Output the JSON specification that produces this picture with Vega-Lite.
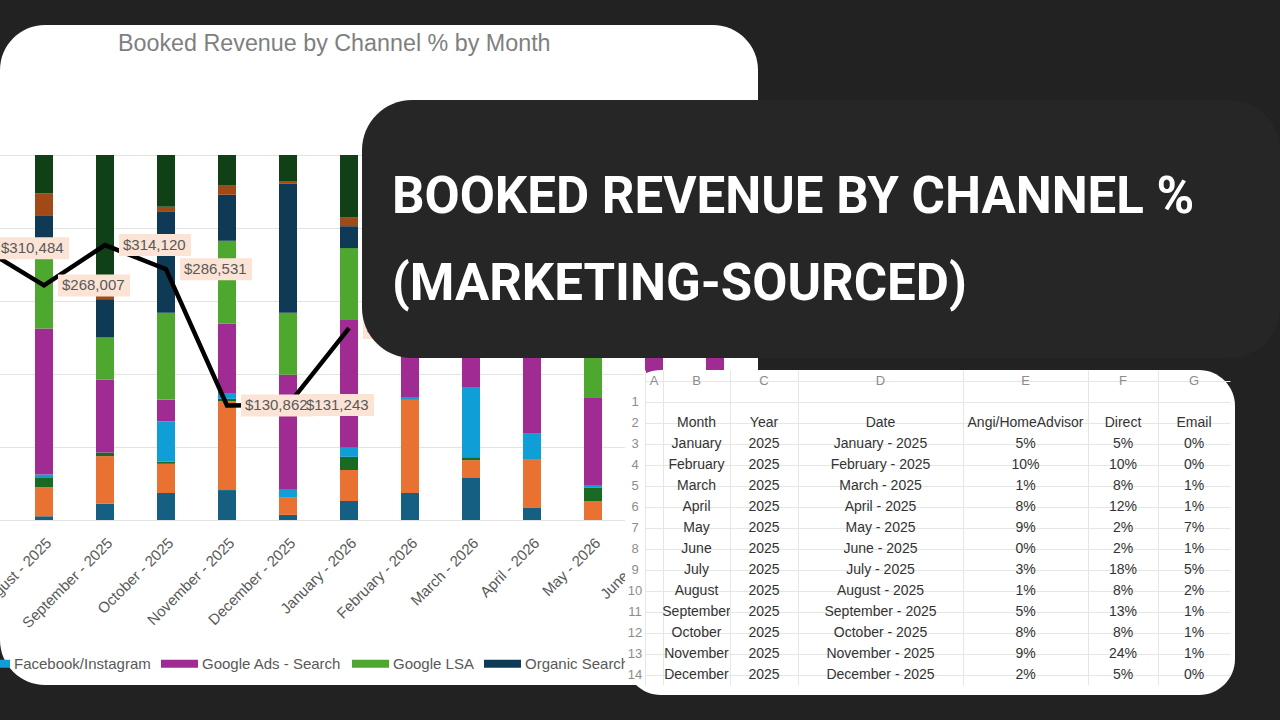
{
  "$schema": "https://vega.github.io/schema/vega-lite/v6.json",
  "background": "#222222",
  "autosize": "none",
  "padding": {"left": 0, "top": 25, "right": 1280, "bottom": 695},
  "bounds": "flush",
  "align": "none",
  "columns": 2,
  "spacing": -396,
  "resolve": {"scale": {"color": "independent"}, "legend": {"color": "independent"}},
  "config": {"font": "Liberation Sans", "view": {"stroke": null}},
  "datasets": {
    "share": [
      {"date": "July - 2025", "channel": "Angi/HomeAdvisor", "pct": 3},
      {"date": "July - 2025", "channel": "Direct", "pct": 18},
      {"date": "July - 2025", "channel": "Email", "pct": 5},
      {"date": "July - 2025", "channel": "Facebook/Instagram", "pct": 2},
      {"date": "July - 2025", "channel": "Google Ads - Search", "pct": 30},
      {"date": "July - 2025", "channel": "Google LSA", "pct": 15},
      {"date": "July - 2025", "channel": "Organic Search", "pct": 12},
      {"date": "July - 2025", "channel": "Other", "pct": 5},
      {"date": "July - 2025", "channel": "Referral", "pct": 10},
      {"date": "August - 2025", "channel": "Angi/HomeAdvisor", "pct": 1},
      {"date": "August - 2025", "channel": "Direct", "pct": 8},
      {"date": "August - 2025", "channel": "Email", "pct": 2.5},
      {"date": "August - 2025", "channel": "Facebook/Instagram", "pct": 1},
      {"date": "August - 2025", "channel": "Google Ads - Search", "pct": 40},
      {"date": "August - 2025", "channel": "Google LSA", "pct": 22},
      {"date": "August - 2025", "channel": "Organic Search", "pct": 9},
      {"date": "August - 2025", "channel": "Other", "pct": 6},
      {"date": "August - 2025", "channel": "Referral", "pct": 10.5},
      {"date": "September - 2025", "channel": "Angi/HomeAdvisor", "pct": 4.5},
      {"date": "September - 2025", "channel": "Direct", "pct": 13},
      {"date": "September - 2025", "channel": "Email", "pct": 1},
      {"date": "September - 2025", "channel": "Facebook/Instagram", "pct": 0},
      {"date": "September - 2025", "channel": "Google Ads - Search", "pct": 20},
      {"date": "September - 2025", "channel": "Google LSA", "pct": 11.5},
      {"date": "September - 2025", "channel": "Organic Search", "pct": 10.5},
      {"date": "September - 2025", "channel": "Other", "pct": 2},
      {"date": "September - 2025", "channel": "Referral", "pct": 37.5},
      {"date": "October - 2025", "channel": "Angi/HomeAdvisor", "pct": 7.4},
      {"date": "October - 2025", "channel": "Direct", "pct": 8},
      {"date": "October - 2025", "channel": "Email", "pct": 0.6},
      {"date": "October - 2025", "channel": "Facebook/Instagram", "pct": 11},
      {"date": "October - 2025", "channel": "Google Ads - Search", "pct": 6},
      {"date": "October - 2025", "channel": "Google LSA", "pct": 23.8},
      {"date": "October - 2025", "channel": "Organic Search", "pct": 27.6},
      {"date": "October - 2025", "channel": "Other", "pct": 1.4},
      {"date": "October - 2025", "channel": "Referral", "pct": 14.2},
      {"date": "November - 2025", "channel": "Angi/HomeAdvisor", "pct": 8.2},
      {"date": "November - 2025", "channel": "Direct", "pct": 24.4},
      {"date": "November - 2025", "channel": "Email", "pct": 0.6},
      {"date": "November - 2025", "channel": "Facebook/Instagram", "pct": 1.6},
      {"date": "November - 2025", "channel": "Google Ads - Search", "pct": 19},
      {"date": "November - 2025", "channel": "Google LSA", "pct": 22.7},
      {"date": "November - 2025", "channel": "Organic Search", "pct": 12.6},
      {"date": "November - 2025", "channel": "Other", "pct": 2.5},
      {"date": "November - 2025", "channel": "Referral", "pct": 8.4},
      {"date": "December - 2025", "channel": "Angi/HomeAdvisor", "pct": 1.4},
      {"date": "December - 2025", "channel": "Direct", "pct": 4.7},
      {"date": "December - 2025", "channel": "Email", "pct": 0},
      {"date": "December - 2025", "channel": "Facebook/Instagram", "pct": 2.2},
      {"date": "December - 2025", "channel": "Google Ads - Search", "pct": 31.5},
      {"date": "December - 2025", "channel": "Google LSA", "pct": 17},
      {"date": "December - 2025", "channel": "Organic Search", "pct": 35.3},
      {"date": "December - 2025", "channel": "Other", "pct": 0.6},
      {"date": "December - 2025", "channel": "Referral", "pct": 7.3},
      {"date": "January - 2026", "channel": "Angi/HomeAdvisor", "pct": 5.2},
      {"date": "January - 2026", "channel": "Direct", "pct": 8.5},
      {"date": "January - 2026", "channel": "Email", "pct": 3.6},
      {"date": "January - 2026", "channel": "Facebook/Instagram", "pct": 2.5},
      {"date": "January - 2026", "channel": "Google Ads - Search", "pct": 35},
      {"date": "January - 2026", "channel": "Google LSA", "pct": 19.7},
      {"date": "January - 2026", "channel": "Organic Search", "pct": 6},
      {"date": "January - 2026", "channel": "Other", "pct": 2.5},
      {"date": "January - 2026", "channel": "Referral", "pct": 17},
      {"date": "February - 2026", "channel": "Angi/HomeAdvisor", "pct": 7.4},
      {"date": "February - 2026", "channel": "Direct", "pct": 25.5},
      {"date": "February - 2026", "channel": "Email", "pct": 0},
      {"date": "February - 2026", "channel": "Facebook/Instagram", "pct": 0.8},
      {"date": "February - 2026", "channel": "Google Ads - Search", "pct": 26.6},
      {"date": "February - 2026", "channel": "Google LSA", "pct": 14},
      {"date": "February - 2026", "channel": "Organic Search", "pct": 12},
      {"date": "February - 2026", "channel": "Other", "pct": 2.5},
      {"date": "February - 2026", "channel": "Referral", "pct": 11.2},
      {"date": "March - 2026", "channel": "Angi/HomeAdvisor", "pct": 11.5},
      {"date": "March - 2026", "channel": "Direct", "pct": 4.9},
      {"date": "March - 2026", "channel": "Email", "pct": 0.8},
      {"date": "March - 2026", "channel": "Facebook/Instagram", "pct": 19},
      {"date": "March - 2026", "channel": "Google Ads - Search", "pct": 20},
      {"date": "March - 2026", "channel": "Google LSA", "pct": 12},
      {"date": "March - 2026", "channel": "Organic Search", "pct": 15},
      {"date": "March - 2026", "channel": "Other", "pct": 3},
      {"date": "March - 2026", "channel": "Referral", "pct": 13.8},
      {"date": "April - 2026", "channel": "Angi/HomeAdvisor", "pct": 3.3},
      {"date": "April - 2026", "channel": "Direct", "pct": 13.4},
      {"date": "April - 2026", "channel": "Email", "pct": 0},
      {"date": "April - 2026", "channel": "Facebook/Instagram", "pct": 7.1},
      {"date": "April - 2026", "channel": "Google Ads - Search", "pct": 36},
      {"date": "April - 2026", "channel": "Google LSA", "pct": 14},
      {"date": "April - 2026", "channel": "Organic Search", "pct": 12},
      {"date": "April - 2026", "channel": "Other", "pct": 2},
      {"date": "April - 2026", "channel": "Referral", "pct": 12.2},
      {"date": "May - 2026", "channel": "Angi/HomeAdvisor", "pct": 0},
      {"date": "May - 2026", "channel": "Direct", "pct": 5.2},
      {"date": "May - 2026", "channel": "Email", "pct": 3.6},
      {"date": "May - 2026", "channel": "Facebook/Instagram", "pct": 0.8},
      {"date": "May - 2026", "channel": "Google Ads - Search", "pct": 24},
      {"date": "May - 2026", "channel": "Google LSA", "pct": 29},
      {"date": "May - 2026", "channel": "Organic Search", "pct": 12},
      {"date": "May - 2026", "channel": "Other", "pct": 3},
      {"date": "May - 2026", "channel": "Referral", "pct": 22.4},
      {"date": "June - 2026", "channel": "Angi/HomeAdvisor", "pct": 4},
      {"date": "June - 2026", "channel": "Direct", "pct": 10},
      {"date": "June - 2026", "channel": "Email", "pct": 2},
      {"date": "June - 2026", "channel": "Facebook/Instagram", "pct": 5},
      {"date": "June - 2026", "channel": "Google Ads - Search", "pct": 35},
      {"date": "June - 2026", "channel": "Google LSA", "pct": 18},
      {"date": "June - 2026", "channel": "Organic Search", "pct": 12},
      {"date": "June - 2026", "channel": "Other", "pct": 3},
      {"date": "June - 2026", "channel": "Referral", "pct": 11},
      {"date": "July - 2026", "channel": "Angi/HomeAdvisor", "pct": 3},
      {"date": "July - 2026", "channel": "Direct", "pct": 12},
      {"date": "July - 2026", "channel": "Email", "pct": 1},
      {"date": "July - 2026", "channel": "Facebook/Instagram", "pct": 4},
      {"date": "July - 2026", "channel": "Google Ads - Search", "pct": 34},
      {"date": "July - 2026", "channel": "Google LSA", "pct": 18},
      {"date": "July - 2026", "channel": "Organic Search", "pct": 13},
      {"date": "July - 2026", "channel": "Other", "pct": 3},
      {"date": "July - 2026", "channel": "Referral", "pct": 12}
    ],
    "revenue": [
      {"date": "July - 2025", "revenue": 310484},
      {"date": "August - 2025", "revenue": 268007},
      {"date": "September - 2025", "revenue": 314120},
      {"date": "October - 2025", "revenue": 286531},
      {"date": "November - 2025", "revenue": 130862},
      {"date": "December - 2025", "revenue": 131243},
      {"date": "January - 2026", "revenue": 219312}
    ],
    "sheet": [
      {"row": 0, "A": "A", "B": "B", "C": "C", "D": "D", "E": "E", "F": "F", "G": "G"},
      {"row": 1},
      {"row": 2, "B": "Month", "C": "Year", "D": "Date", "E": "Angi/HomeAdvisor", "F": "Direct", "G": "Email"},
      {"row": 3, "B": "January", "C": "2025", "D": "January - 2025", "E": "5%", "F": "5%", "G": "0%"},
      {"row": 4, "B": "February", "C": "2025", "D": "February - 2025", "E": "10%", "F": "10%", "G": "0%"},
      {"row": 5, "B": "March", "C": "2025", "D": "March - 2025", "E": "1%", "F": "8%", "G": "1%"},
      {"row": 6, "B": "April", "C": "2025", "D": "April - 2025", "E": "8%", "F": "12%", "G": "1%"},
      {"row": 7, "B": "May", "C": "2025", "D": "May - 2025", "E": "9%", "F": "2%", "G": "7%"},
      {"row": 8, "B": "June", "C": "2025", "D": "June - 2025", "E": "0%", "F": "2%", "G": "1%"},
      {"row": 9, "B": "July", "C": "2025", "D": "July - 2025", "E": "3%", "F": "18%", "G": "5%"},
      {"row": 10, "B": "August", "C": "2025", "D": "August - 2025", "E": "1%", "F": "8%", "G": "2%"},
      {"row": 11, "B": "September", "C": "2025", "D": "September - 2025", "E": "5%", "F": "13%", "G": "1%"},
      {"row": 12, "B": "October", "C": "2025", "D": "October - 2025", "E": "8%", "F": "8%", "G": "1%"},
      {"row": 13, "B": "November", "C": "2025", "D": "November - 2025", "E": "9%", "F": "24%", "G": "1%"},
      {"row": 14, "B": "December", "C": "2025", "D": "December - 2025", "E": "2%", "F": "5%", "G": "0%"}
    ]
  },
  "concat": [
    {
      "width": 758,
      "height": 660,
      "view": {"fill": "#ffffff", "stroke": null, "cornerRadius": 45},
      "title": {"text": "Booked Revenue by Channel % by Month", "frame": "group", "anchor": "start", "dx": 118, "offset": -54, "baseline": "bottom", "fontSize": 23.3, "fontWeight": "normal", "color": "#7f7f7f"},
      "layer": [
        {
          "data": {"name": "share"},
          "mark": {"type": "bar"},
          "encoding": {
            "x": {"field": "date", "type": "ordinal", "title": null,
              "scale": {"domain": ["July - 2025", "August - 2025", "September - 2025", "October - 2025", "November - 2025", "December - 2025", "January - 2026", "February - 2026", "March - 2026", "April - 2026", "May - 2026", "June - 2026", "July - 2026"], "range": [-47.5, 745.5], "paddingInner": 0.705, "paddingOuter": 0.3525},
              "axis": {"orient": "bottom", "offset": -155, "labelAngle": -45, "labelFontSize": 15, "labelColor": "#595959", "labelPadding": 5, "domain": false, "ticks": false, "grid": false, "labelOverlap": false, "labelBound": false, "labelFlush": false, "labelLimit": 0, "title": null}},
            "y": {"field": "pct", "type": "quantitative", "stack": "normalize", "title": null,
              "scale": {"domain": [0, 1], "range": [495, 130], "nice": false},
              "axis": {"values": [0, 0.2, 0.4, 0.6, 0.8, 1], "grid": true, "gridColor": "#e3e3e3", "gridWidth": 1.2, "labels": false, "ticks": false, "domain": false, "title": null}},
            "color": {"field": "channel", "type": "nominal",
              "scale": {"domain": ["Angi/HomeAdvisor", "Direct", "Email", "Facebook/Instagram", "Google Ads - Search", "Google LSA", "Organic Search", "Other", "Referral"], "range": ["#156082", "#E97132", "#196B24", "#0F9ED5", "#A02B93", "#4EA72E", "#0E3A56", "#A04A18", "#0F4016"]},
              "legend": {"orient": "none", "legendX": -383, "legendY": 620, "direction": "horizontal", "title": null, "values": ["Angi/HomeAdvisor", "Direct", "Email", "Facebook/Instagram", "Google Ads - Search", "Google LSA", "Organic Search"], "symbolType": "M-1,-0.22H1V0.22H-1Z", "symbolSize": 1369, "symbolStrokeWidth": 0, "labelFontSize": 15, "labelColor": "#595959", "labelOffset": 4, "columnPadding": 10, "labelLimit": 0}},
            "order": {"field": "channel", "sort": "ascending"}
          }
        },
        {
          "data": {"name": "revenue"},
          "layer": [
            {
              "mark": {"type": "line", "color": "#000000", "strokeWidth": 4.5},
              "encoding": {
                "x": {"field": "date", "type": "ordinal"},
                "y": {"field": "revenue", "type": "quantitative", "scale": {"domain": [0, 417000], "range": [495, 130], "nice": false}, "axis": null}
              }
            },
            {
              "mark": {"type": "point", "shape": "M0.3256,-0.2558H2V0.2558H0.3256Z", "size": 7396, "filled": true, "fill": "#FBE3D6", "strokeWidth": 0, "opacity": 1},
              "encoding": {
                "x": {"field": "date", "type": "ordinal"},
                "y": {"field": "revenue", "type": "quantitative"}
              }
            },
            {
              "mark": {"type": "text", "align": "left", "dx": 18, "fontSize": 15, "color": "#595959"},
              "encoding": {
                "x": {"field": "date", "type": "ordinal"},
                "y": {"field": "revenue", "type": "quantitative"},
                "text": {"field": "revenue", "type": "quantitative", "format": "$,.0f"}
              }
            }
          ]
        }
      ],
      "resolve": {"scale": {"y": "independent"}}
    },
    {
      "concat": [
        {"width": 1, "height": 63, "data": {"values": []}, "mark": "point", "view": {"stroke": null}},
        {
          "width": 918,
          "height": 258,
          "view": {"fill": "#262626", "stroke": null, "cornerRadius": 50},
          "title": {"text": ["BOOKED REVENUE BY CHANNEL %", "(MARKETING-SOURCED)"], "frame": "group", "anchor": "start", "dx": 30, "offset": -262, "baseline": "bottom", "lineHeight": 87, "fontSize": 51, "font": "Roboto", "fontWeight": "bold", "color": "#ffffff"},
          "data": {"values": []},
          "mark": "point"
        },
        {
          "concat": [
            {"width": 873, "height": 1, "data": {"values": []}, "mark": "point", "view": {"stroke": null}},
            {"width": 610, "height": 325, "view": {"fill": "#ffffff", "stroke": null, "cornerRadius": 36}, "data": {"values": []}, "mark": "point"},
            {
              "hconcat": [
                {
                  "width": 20, "height": 315, "data": {"name": "sheet"}, "transform": [{"filter": "datum.row > 0"}],
                  "mark": {"type": "text", "fontSize": 13, "color": "#8c8c8c"},
                  "encoding": {
                    "y": {"field": "row", "type": "ordinal", "scale": {"domain": [0,1,2,3,4,5,6,7,8,9,10,11,12,13,14], "paddingInner": 0, "paddingOuter": 0}, "axis": null},
                    "text": {"field": "row", "type": "nominal"}
                  }
                },
                {
                  "width": 18, "height": 315, "data": {"name": "sheet"}, "transform": [{"filter": "isValid(datum.A)"}],
                  "mark": {"type": "text", "fontSize": 13, "color": "#8c8c8c"},
                  "encoding": {
                    "y": {"field": "row", "type": "ordinal", "scale": {"domain": [0,1,2,3,4,5,6,7,8,9,10,11,12,13,14], "paddingInner": 0, "paddingOuter": 0}, "axis": {"values": [0,1,2,3,4,5,6,7,8,9,10,11,12,13,14], "bandPosition": 1, "grid": true, "gridColor": "#e6e6e6", "domain": true, "domainColor": "#e6e6e6", "labels": false, "ticks": false, "title": null}},
                    "text": {"field": "A", "type": "nominal"}
                  }
                },
                {
                  "width": 67, "height": 315, "data": {"name": "sheet"}, "transform": [{"filter": "isValid(datum.B)"}],
                  "mark": {"type": "text"},
                  "encoding": {
                    "y": {"field": "row", "type": "ordinal", "scale": {"domain": [0,1,2,3,4,5,6,7,8,9,10,11,12,13,14], "paddingInner": 0, "paddingOuter": 0}, "axis": {"values": [0,1,2,3,4,5,6,7,8,9,10,11,12,13,14], "bandPosition": 1, "grid": true, "gridColor": "#e6e6e6", "domain": true, "domainColor": "#e6e6e6", "labels": false, "ticks": false, "title": null}},
                    "text": {"field": "B", "type": "nominal"},
                    "color": {"condition": {"test": "datum.row == 0", "value": "#8c8c8c"}, "value": "#333333"},
                    "size": {"condition": {"test": "datum.row == 0", "value": 13}, "value": 14}
                  }
                },
                {
                  "width": 68, "height": 315, "data": {"name": "sheet"}, "transform": [{"filter": "isValid(datum.C)"}],
                  "mark": {"type": "text"},
                  "encoding": {
                    "y": {"field": "row", "type": "ordinal", "scale": {"domain": [0,1,2,3,4,5,6,7,8,9,10,11,12,13,14], "paddingInner": 0, "paddingOuter": 0}, "axis": {"values": [0,1,2,3,4,5,6,7,8,9,10,11,12,13,14], "bandPosition": 1, "grid": true, "gridColor": "#e6e6e6", "domain": true, "domainColor": "#e6e6e6", "labels": false, "ticks": false, "title": null}},
                    "text": {"field": "C", "type": "nominal"},
                    "color": {"condition": {"test": "datum.row == 0", "value": "#8c8c8c"}, "value": "#333333"},
                    "size": {"condition": {"test": "datum.row == 0", "value": 13}, "value": 14}
                  }
                },
                {
                  "width": 165, "height": 315, "data": {"name": "sheet"}, "transform": [{"filter": "isValid(datum.D)"}],
                  "mark": {"type": "text"},
                  "encoding": {
                    "y": {"field": "row", "type": "ordinal", "scale": {"domain": [0,1,2,3,4,5,6,7,8,9,10,11,12,13,14], "paddingInner": 0, "paddingOuter": 0}, "axis": {"values": [0,1,2,3,4,5,6,7,8,9,10,11,12,13,14], "bandPosition": 1, "grid": true, "gridColor": "#e6e6e6", "domain": true, "domainColor": "#e6e6e6", "labels": false, "ticks": false, "title": null}},
                    "text": {"field": "D", "type": "nominal"},
                    "color": {"condition": {"test": "datum.row == 0", "value": "#8c8c8c"}, "value": "#333333"},
                    "size": {"condition": {"test": "datum.row == 0", "value": 13}, "value": 14}
                  }
                },
                {
                  "width": 125, "height": 315, "data": {"name": "sheet"}, "transform": [{"filter": "isValid(datum.E)"}],
                  "mark": {"type": "text"},
                  "encoding": {
                    "y": {"field": "row", "type": "ordinal", "scale": {"domain": [0,1,2,3,4,5,6,7,8,9,10,11,12,13,14], "paddingInner": 0, "paddingOuter": 0}, "axis": {"values": [0,1,2,3,4,5,6,7,8,9,10,11,12,13,14], "bandPosition": 1, "grid": true, "gridColor": "#e6e6e6", "domain": true, "domainColor": "#e6e6e6", "labels": false, "ticks": false, "title": null}},
                    "text": {"field": "E", "type": "nominal"},
                    "color": {"condition": {"test": "datum.row == 0", "value": "#8c8c8c"}, "value": "#333333"},
                    "size": {"condition": {"test": "datum.row == 0", "value": 13}, "value": 14}
                  }
                },
                {
                  "width": 70, "height": 315, "data": {"name": "sheet"}, "transform": [{"filter": "isValid(datum.F)"}],
                  "mark": {"type": "text"},
                  "encoding": {
                    "y": {"field": "row", "type": "ordinal", "scale": {"domain": [0,1,2,3,4,5,6,7,8,9,10,11,12,13,14], "paddingInner": 0, "paddingOuter": 0}, "axis": {"values": [0,1,2,3,4,5,6,7,8,9,10,11,12,13,14], "bandPosition": 1, "grid": true, "gridColor": "#e6e6e6", "domain": true, "domainColor": "#e6e6e6", "labels": false, "ticks": false, "title": null}},
                    "text": {"field": "F", "type": "nominal"},
                    "color": {"condition": {"test": "datum.row == 0", "value": "#8c8c8c"}, "value": "#333333"},
                    "size": {"condition": {"test": "datum.row == 0", "value": 13}, "value": 14}
                  }
                },
                {
                  "width": 72, "height": 315, "data": {"name": "sheet"}, "transform": [{"filter": "isValid(datum.G)"}],
                  "mark": {"type": "text"},
                  "encoding": {
                    "y": {"field": "row", "type": "ordinal", "scale": {"domain": [0,1,2,3,4,5,6,7,8,9,10,11,12,13,14], "paddingInner": 0, "paddingOuter": 0}, "axis": {"values": [0,1,2,3,4,5,6,7,8,9,10,11,12,13,14], "bandPosition": 1, "grid": true, "gridColor": "#e6e6e6", "domain": true, "domainColor": "#e6e6e6", "labels": false, "ticks": false, "title": null}},
                    "text": {"field": "G", "type": "nominal"},
                    "color": {"condition": {"test": "datum.row == 0", "value": "#8c8c8c"}, "value": "#333333"},
                    "size": {"condition": {"test": "datum.row == 0", "value": 13}, "value": 14}
                  }
                }
              ],
              "spacing": 0,
              "bounds": "flush"
            }
          ],
          "columns": 3,
          "align": "none",
          "spacing": -610,
          "bounds": "flush"
        }
      ],
      "columns": 1,
      "align": "none",
      "spacing": 12,
      "bounds": "flush"
    }
  ]
}
